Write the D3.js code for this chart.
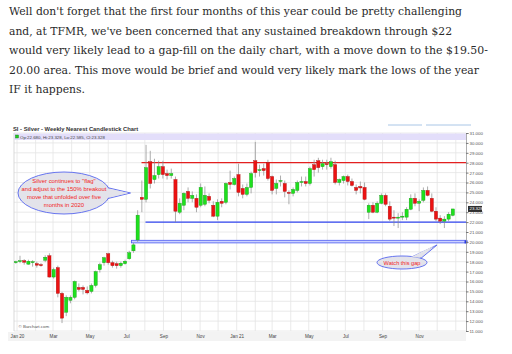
<!DOCTYPE html>
<html>
<head>
<meta charset="utf-8">
<script src="https://cdn.jsdelivr.net/npm/d3@7"></script>
<style>
body { margin: 0; background: #fff; }
svg { display: block; }
</style>
</head>
<body>
<main></main>
<script>
// article text above the chart
const paragraph = [
  "Well don't forget that the first four months of this year could be pretty challenging",
  "and, at TFMR, we've been concerned that any sustained breakdown through $22",
  "would very likely lead to a gap-fill on the daily chart, with a move down to the $19.50-",
  "20.00 area. This move would be brief and would very likely mark the lows of the year",
  "IF it happens."
]
const paragraphWidths = [453, 443, 479, 470, 76]

// weekly candles (week start dates)
const weeks = [
  "2019-12-30","2020-01-06","2020-01-13","2020-01-20","2020-01-27","2020-02-03","2020-02-10","2020-02-17","2020-02-24",
  "2020-03-02","2020-03-09","2020-03-16","2020-03-23","2020-03-30","2020-04-06","2020-04-13","2020-04-20","2020-04-27",
  "2020-05-04","2020-05-11","2020-05-18","2020-05-25","2020-06-01","2020-06-08","2020-06-15","2020-06-22","2020-06-29",
  "2020-07-06","2020-07-13","2020-07-20","2020-07-27","2020-08-03","2020-08-10","2020-08-17","2020-08-24","2020-08-31",
  "2020-09-07","2020-09-14","2020-09-21","2020-09-28","2020-10-05","2020-10-12","2020-10-19","2020-10-26","2020-11-02",
  "2020-11-09","2020-11-16","2020-11-23","2020-11-30","2020-12-07","2020-12-14","2020-12-21","2020-12-28",
  "2021-01-04","2021-01-11","2021-01-18","2021-01-25","2021-02-01","2021-02-08","2021-02-15","2021-02-22","2021-03-01",
  "2021-03-08","2021-03-15","2021-03-22","2021-03-29","2021-04-05","2021-04-12","2021-04-19","2021-04-26","2021-05-03",
  "2021-05-10","2021-05-17","2021-05-24","2021-05-31","2021-06-07","2021-06-14","2021-06-21","2021-06-28","2021-07-05",
  "2021-07-12","2021-07-19","2021-07-26","2021-08-02","2021-08-09","2021-08-16","2021-08-23","2021-08-30","2021-09-06",
  "2021-09-13","2021-09-20","2021-09-27","2021-10-04","2021-10-11","2021-10-18","2021-10-25","2021-11-01","2021-11-08",
  "2021-11-15","2021-11-22","2021-11-29","2021-12-06","2021-12-13","2021-12-20","2021-12-27"
]
const opens = [
  17.90,18.05,18.10,17.75,18.00,17.80,17.70,18.15,18.60,16.45,17.40,14.80,12.90,14.10,14.40,15.40,15.40,15.10,
  15.00,15.60,17.20,17.90,18.80,17.90,17.80,17.60,17.80,18.30,19.10,20.20,24.50,24.30,28.10,26.30,26.80,27.60,
  26.90,26.70,26.30,23.00,23.70,25.10,24.40,24.40,23.70,23.80,24.60,23.70,22.60,24.10,24.00,26.00,25.80,
  26.80,25.40,24.80,25.50,28.20,27.20,27.40,28.00,26.60,25.40,26.20,25.90,25.00,24.90,25.20,26.00,26.10,25.90,
  27.80,28.20,27.60,27.90,27.60,27.80,26.00,26.20,26.60,26.10,25.50,25.60,25.50,23.00,23.70,23.00,23.90,24.70,
  23.60,22.50,22.40,22.50,22.50,23.30,24.40,23.90,24.20,25.20,24.40,23.10,22.40,22.10,22.30,22.68
]
const highs = [
  18.10,18.60,18.25,18.20,18.15,18.00,17.85,18.65,18.85,17.40,17.60,14.95,14.60,14.60,16.10,15.80,15.60,15.50,
  15.80,17.10,17.90,18.50,18.90,18.10,18.00,18.00,18.20,19.10,19.90,23.20,26.20,29.80,29.20,28.40,28.20,28.20,
  27.30,27.40,26.60,24.40,25.00,25.50,25.10,24.80,25.90,25.60,24.90,24.10,24.30,24.40,26.00,27.20,26.60,
  27.90,25.80,25.90,27.10,30.10,27.80,27.90,28.30,26.70,26.30,26.70,26.20,25.20,25.50,26.20,26.60,26.60,27.60,
  28.30,28.50,28.30,28.30,28.50,28.20,26.40,26.70,26.80,26.40,25.80,26.10,26.00,23.90,24.00,24.10,24.90,24.90,
  24.10,23.20,22.90,23.00,23.50,24.80,24.90,24.30,25.50,25.60,24.90,23.50,22.70,22.60,23.00,23.328
]
const lows = [
  17.80,17.85,17.70,17.70,17.50,17.40,17.50,17.95,16.40,16.30,14.40,11.80,12.50,13.80,14.20,15.00,14.70,14.70,
  14.80,15.40,16.90,17.60,17.70,17.40,17.30,17.40,17.70,18.20,18.90,20.00,23.00,24.00,25.40,25.90,26.40,26.40,
  26.30,26.40,22.00,22.80,23.20,24.00,24.00,23.00,23.50,23.60,23.90,22.50,22.20,23.50,23.80,25.30,25.70,
  24.60,24.40,24.60,24.90,26.50,26.60,26.70,26.20,24.80,24.80,25.60,24.50,23.80,24.60,25.00,25.60,25.60,25.70,
  26.60,27.00,27.30,27.30,27.40,25.80,25.70,25.90,25.70,25.60,24.80,24.90,24.20,22.30,22.90,22.90,23.80,23.60,
  22.10,21.60,21.40,22.20,22.20,23.20,23.60,23.10,24.00,24.60,23.00,22.10,21.80,21.40,22.10,22.585
]
const closes = [
  18.00,18.10,17.95,18.05,18.00,17.65,17.60,18.45,16.45,17.20,14.80,12.30,14.40,14.40,16.00,15.20,15.20,14.85,
  15.60,17.00,17.70,18.40,17.90,17.60,17.60,17.85,18.05,18.90,19.70,22.70,24.30,27.50,25.90,26.70,27.60,26.80,
  26.70,26.90,23.10,23.90,24.90,24.40,24.70,23.50,25.50,24.70,24.20,22.60,24.00,23.90,25.90,25.80,26.40,
  25.00,24.80,25.50,26.90,27.00,27.30,27.20,26.40,25.20,25.90,26.20,25.10,24.90,25.30,26.00,26.10,25.90,27.40,
  27.30,27.50,27.90,27.80,28.10,26.00,26.30,26.60,26.10,25.70,25.20,25.45,24.30,23.70,23.00,23.90,24.70,23.80,
  22.30,22.40,22.50,22.60,23.30,24.40,23.90,24.10,25.20,24.70,23.10,22.30,22.10,22.30,22.80,23.328
]

// axis ticks
const yTicks = [11,12,13,14,15,16,17,18,19,20,21,22,23,24,25,26,27,28,29,30,31]
const monthLabels = ["Jan 20","Mar","May","Jul","Sep","Nov","Jan 21","Mar","May","Jul","Sep","Nov"]

// drawn levels
const resistance = 28
const support = 22
const gapLevel = 20
const lastClose = 23.328

const calloutLines = ['Silver continues to "flag"', "and adjust to the 150% breakout", "move that unfolded over five", "months in 2020"]

const sizeOfSVG = { width: 512, height: 354 }
const plot = { left: 14, right: 466, top: 133, bottom: 331 }

const svg = d3.select('main')
  .append('svg')
  .attr('width', sizeOfSVG.width)
  .attr('height', sizeOfSVG.height)

// paragraph
svg.append('g')
  .selectAll('text')
  .data(paragraph)
  .enter()
  .append('text')
  .attr('x', 9)
  .attr('y', (d, i) => 15 + i * 19.5)
  .attr('textLength', (d, i) => paragraphWidths[i])
  .attr('lengthAdjust', 'spacingAndGlyphs')
  .style('font-family', '"DejaVu Serif", serif')
  .style('font-size', '11.5px')
  .style('fill', '#2a2a2a')
  .text(d => d)

const parse = d3.timeParse('%Y-%m-%d')
const candles = weeks.map((w, i) => ({
  date: parse(w), o: opens[i], h: highs[i], l: lows[i], c: closes[i]
}))

const x = d3.scaleTime()
  .domain([new Date(2019, 11, 27), new Date(2022, 0, 18)])
  .range([plot.left, plot.right])

const y = d3.scaleLinear()
  .domain([11, 31])
  .range([plot.bottom, plot.top])

// top-right link underlines
svg.append('line').attr('x1', 388).attr('x2', 422).attr('y1', 125).attr('y2', 125)
  .attr('stroke', '#a9c6e6').attr('stroke-width', 1)
svg.append('line').attr('x1', 426).attr('x2', 471).attr('y1', 125).attr('y2', 125)
  .attr('stroke', '#a9c6e6').attr('stroke-width', 1)

// chart title
svg.append('text')
  .attr('x', 13)
  .attr('y', 131)
  .style('font-family', '"Liberation Sans", Arial, sans-serif')
  .style('font-size', '5.8px')
  .style('font-weight', 'bold')
  .style('fill', '#333')
  .text('SI - Silver - Weekly Nearest Candlestick Chart')

// grid
const grid = svg.append('g')
grid.selectAll('.hgrid')
  .data(yTicks)
  .enter()
  .append('line')
  .attr('x1', plot.left).attr('x2', plot.right)
  .attr('y1', d => y(d)).attr('y2', d => y(d))
  .attr('stroke', '#e4e4e4').attr('stroke-width', 0.8)

const months = d3.timeMonth.range(new Date(2020, 0, 1), new Date(2022, 0, 2))
grid.selectAll('.vgrid')
  .data(months)
  .enter()
  .append('line')
  .attr('x1', d => x(d)).attr('x2', d => x(d))
  .attr('y1', plot.top).attr('y2', plot.bottom)
  .attr('stroke', '#e4e4e4').attr('stroke-width', 0.8)

// plot frame
svg.append('line').attr('x1', plot.left).attr('x2', plot.left)
  .attr('y1', plot.top).attr('y2', plot.bottom).attr('stroke', '#cfcfcf').attr('stroke-width', 0.8)
svg.append('rect')
  .attr('x', 8).attr('y', plot.bottom + 1)
  .attr('width', plot.right - 8).attr('height', 9)
  .attr('fill', '#f3f3f3')

// header bar with OHLC
svg.append('rect')
  .attr('x', plot.left).attr('y', 133.5)
  .attr('width', plot.right - plot.left).attr('height', 6.5)
  .attr('fill', '#e3defa')
svg.append('rect')
  .attr('x', 15.5).attr('y', 135).attr('width', 3).attr('height', 3)
  .attr('fill', '#22cc22').attr('stroke', '#117711').attr('stroke-width', 0.4)
svg.append('text')
  .attr('x', 20).attr('y', 138.5)
  .style('font-family', '"Liberation Sans", Arial, sans-serif')
  .style('font-size', '4.4px')
  .style('fill', '#444')
  .text('Op:' + opens[opens.length - 1].toFixed(3) + ', Hi:' + highs[highs.length - 1].toFixed(3) +
        ', Lo:' + lows[lows.length - 1].toFixed(3) + ', Cl:' + closes[closes.length - 1].toFixed(3))

// level lines
svg.append('line')
  .attr('x1', 141.5).attr('x2', plot.right)
  .attr('y1', y(resistance)).attr('y2', y(resistance))
  .attr('stroke', '#e32020').attr('stroke-width', 1.2)
svg.append('line')
  .attr('x1', 145.5).attr('x2', plot.right)
  .attr('y1', y(support)).attr('y2', y(support))
  .attr('stroke', '#3246f0').attr('stroke-width', 1.2)
svg.append('rect')
  .attr('x', 131.5).attr('y', y(gapLevel) - 1.6)
  .attr('width', plot.right - 131.5).attr('height', 2.6)
  .attr('fill', '#cdd2ff').attr('stroke', '#4a5af2').attr('stroke-width', 0.8)
svg.append('rect')
  .attr('x', plot.right - 1.5).attr('y', y(gapLevel) - 1.5)
  .attr('width', 3).attr('height', 3).attr('fill', '#2a3ae0')

// candles
const candleG = svg.append('g')
candleG.selectAll('.wick')
  .data(candles)
  .enter()
  .append('line')
  .attr('x1', d => x(d.date)).attr('x2', d => x(d.date))
  .attr('y1', d => y(d.h)).attr('y2', d => y(d.l))
  .attr('stroke', '#8a8a8a').attr('stroke-width', 0.7)

candleG.selectAll('.body')
  .data(candles)
  .enter()
  .append('rect')
  .attr('x', d => x(d.date) - 1.6)
  .attr('width', 3.2)
  .attr('y', d => y(Math.max(d.o, d.c)))
  .attr('height', d => Math.max(0.9, Math.abs(y(d.o) - y(d.c))))
  .attr('fill', d => d.c >= d.o ? '#1ee01e' : '#ec1212')
  .attr('stroke', d => d.c >= d.o ? '#139a13' : '#a80d0d')
  .attr('stroke-width', 0.4)

// y axis on the right
const yAxis = d3.axisRight(y)
  .tickValues(yTicks)
  .tickSize(2.5)
  .tickFormat(d3.format('.3f'))

const yG = svg.append('g')
  .attr('transform', 'translate(' + plot.right + ',0)')
  .call(yAxis)
yG.select('.domain').attr('stroke', '#999').attr('stroke-width', 0.8)
yG.selectAll('line').attr('stroke', '#777')
yG.selectAll('text')
  .attr('x', 3.5)
  .style('font-family', '"Liberation Sans", Arial, sans-serif')
  .style('font-size', '4.4px')
  .style('fill', '#555')

// last price tag
svg.append('rect')
  .attr('x', plot.right + 2).attr('y', y(lastClose) - 3)
  .attr('width', 14).attr('height', 6)
  .attr('fill', '#2f2f2f')
svg.append('text')
  .attr('x', plot.right + 3.5).attr('y', y(lastClose) + 1.5)
  .style('font-family', '"Liberation Sans", Arial, sans-serif')
  .style('font-size', '4.4px')
  .style('fill', '#fff')
  .text(d3.format('.3f')(lastClose))

// x axis labels
const labelMonths = months.filter((d, i) => i % 2 === 0)
const xAxis = d3.axisBottom(x)
  .tickValues(labelMonths)
  .tickSize(0)
  .tickFormat((d, i) => monthLabels[i])

const xG = svg.append('g')
  .attr('transform', 'translate(0,' + plot.bottom + ')')
  .call(xAxis)
xG.select('.domain').remove()
xG.selectAll('text')
  .attr('dy', 0)
  .attr('y', 6.5)
  .style('font-family', '"Liberation Sans", Arial, sans-serif')
  .style('font-size', '4.6px')
  .style('fill', '#444')

// barchart credit
svg.append('text')
  .attr('x', 18.5).attr('y', 327.5)
  .style('font-family', '"Liberation Sans", Arial, sans-serif')
  .style('font-size', '4.4px')
  .style('fill', '#555')
  .text('\u00a9 Barchart.com')

// callouts
function callout(cx, cy, rx, ry, p1, p2, tip) {
  const g = svg.append('g')
  const tri = 'M' + p1[0] + ',' + p1[1] + 'L' + tip[0] + ',' + tip[1] + 'L' + p2[0] + ',' + p2[1] + 'Z'
  g.append('path').attr('d', tri).attr('fill', '#e3e3ea').attr('stroke', '#5766ee').attr('stroke-width', 0.9)
  g.append('ellipse').attr('cx', cx).attr('cy', cy).attr('rx', rx).attr('ry', ry)
    .attr('fill', '#e3e3ea').attr('stroke', '#5766ee').attr('stroke-width', 0.9)
  const inner = 'M' + (p1[0] - 1.5) + ',' + (p1[1] + 0.6) + 'L' + (tip[0] - 2) + ',' + tip[1] + 'L' + (p2[0] - 1.5) + ',' + (p2[1] - 0.6) + 'Z'
  g.append('path').attr('d', inner).attr('fill', '#e3e3ea')
  return g
}

const c1 = callout(64, 193, 46, 21, [107, 187.5], [106, 199], [130.5, 193])
c1.selectAll('text')
  .data(calloutLines)
  .enter()
  .append('text')
  .attr('x', 64)
  .attr('y', (d, i) => 182.5 + i * 8.3)
  .attr('text-anchor', 'middle')
  .style('font-family', '"Liberation Sans", Arial, sans-serif')
  .style('font-size', '5.9px')
  .style('fill', '#f2251d')
  .text(d => d)

const c2 = callout(402, 262.5, 25, 6.5, [413, 256.4], [421, 258.3], [437, 245])
c2.append('text')
  .attr('x', 402).attr('y', 264.5)
  .attr('text-anchor', 'middle')
  .style('font-family', '"Liberation Sans", Arial, sans-serif')
  .style('font-size', '5.6px')
  .style('fill', '#f2251d')
  .text('Watch this gap')
</script>
</body>
</html>
